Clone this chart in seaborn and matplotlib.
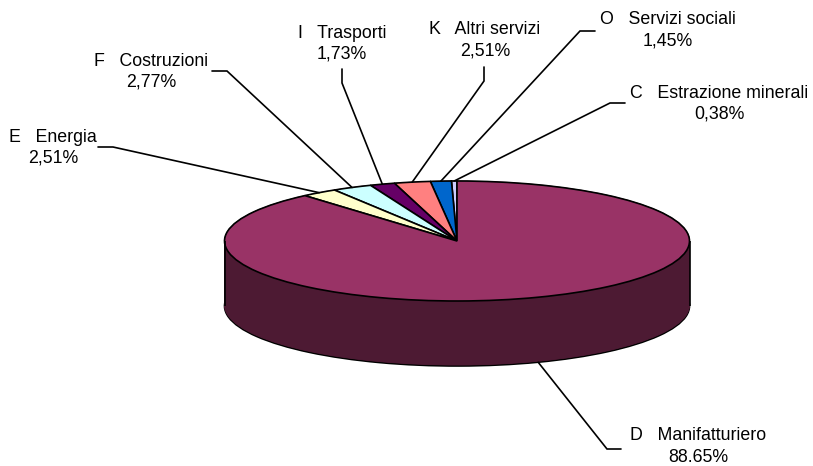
import numpy as np
import matplotlib
matplotlib.use("Agg")
import matplotlib.pyplot as plt
import seaborn as sns

# Data, in drawing order (counterclockwise from the top)
sectors = ["C   Estrazione minerali", "O   Servizi sociali", "K   Altri servizi", "I   Trasporti",
           "F   Costruzioni", "E   Energia", "D   Manifatturiero"]
shares = [0.38, 1.45, 2.51, 1.73, 2.77, 2.51, 88.65]
share_labels = ["0,38%", "1,45%", "2,51%", "1,73%", "2,77%", "2,51%", "88.65%"]
top_colors = ["#CCCCFF", "#0066CC", "#FF8080", "#660066", "#CCFFFF", "#FFFFCC", "#993366"]
side_colors = ["#666680", "#003366", "#804040", "#330033", "#668080", "#808066", "#4D1A33"]

# Layout in image pixels
W, H = 813, 466
cx, cy, rx, ry, depth = 457, 241, 232.5, 60, 65
label_pos = [(719, 93), (668, 20), (485, 30), (342, 33), (151, 61), (53, 137), (698, 436)]
elbows = [[(625, 103), (610, 103)], [(595, 31), (580, 31)], [(484, 67), (484, 81)],
          [(342, 69), (342, 83)], [(212, 71), (227, 71)], [(98, 147), (113, 147)],
          [(621, 449), (607, 449)]]

sns.set_theme(style="white")
plt.rcParams["font.family"] = ["Liberation Sans", "DejaVu Sans"]

fig = plt.figure(figsize=(W / 100, H / 100), dpi=100, facecolor="white")

# pie axes: one data unit is one radius, squashed into an ellipse
ax = fig.add_axes([0, 0, 1, 1])
dz = depth / ry

# side of the pie: stacked copies from the bottom up
ax.pie(shares, colors=sns.color_palette(side_colors), startangle=90, center=(0, -dz),
       radius=1, frame=True, wedgeprops={"edgecolor": "black", "linewidth": 1.2})
for z in np.linspace(dz, 0, depth + 1)[1:]:
    ax.pie(shares, colors=side_colors, startangle=90, center=(0, -z), radius=1, frame=True,
           wedgeprops={"linewidth": 0.6, "edgecolor": side_colors[-1]})
ax.vlines([-1, 1], -dz, 0, color="black", linewidth=1.2)

# top face
ax.pie(shares, colors=sns.color_palette(top_colors), startangle=90, radius=1, frame=True,
       wedgeprops={"edgecolor": "black", "linewidth": 1.2})

ax.set_aspect("auto")
ax.set_xlim(-cx / rx, (W - cx) / rx)
ax.set_ylim(-(H - cy) / ry, cy / ry)
ax.axis("off")

# overlay in pixel coordinates for the labels and their leader lines
over = fig.add_axes([0, 0, 1, 1], facecolor="none")
over.set_xlim(0, W)
over.set_ylim(H, 0)
over.axis("off")

edges = np.cumsum([0] + shares) / 100 * 2 * np.pi
for i, sector in enumerate(sectors):
    mid = (edges[i] + edges[i + 1]) / 2 + np.pi / 2
    end_x = cx + rx * np.cos(mid)
    end_y = cy - ry * np.sin(mid)
    if np.sin(mid) < 0:
        end_y += depth
    pts = elbows[i] + [(end_x, end_y)]
    over.plot([p[0] for p in pts], [p[1] for p in pts], color="black", linewidth=1.2,
              solid_joinstyle="miter")
    x, y = label_pos[i]
    over.text(x, y, sector, ha="center", va="center", fontsize=12.8, color="black")
    over.text(x, y + 21, share_labels[i], ha="center", va="center", fontsize=12.8, color="black")

fig.savefig("out.png", dpi=100)
